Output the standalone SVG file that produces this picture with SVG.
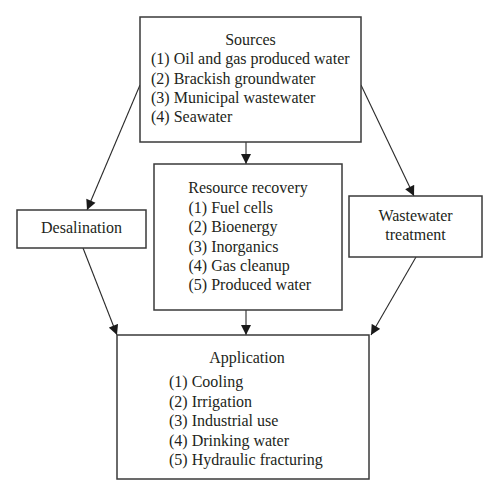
<svg xmlns="http://www.w3.org/2000/svg" width="500" height="497" viewBox="0 0 500 497">
<defs>
<style>
.box{fill:#fff;stroke:#3a3a3a;stroke-width:1.5}
.t{font-family:"Liberation Serif","Times New Roman",serif;font-size:16px;fill:#231f20}
.c{text-anchor:middle}
.edge{stroke:#2a2a2a;stroke-width:1.1;fill:none;marker-end:url(#ah)}
</style>
<marker id="ah" viewBox="0 0 10 10" refX="10" refY="5" markerWidth="11" markerHeight="10" markerUnits="userSpaceOnUse" orient="auto">
<path d="M0,0 L10,5 L0,10 z" fill="#1a1a1a"/>
</marker>
</defs>
<rect width="500" height="497" fill="#fff"/>
<g id="connectors">
<line class="edge" x1="140" y1="85" x2="87" y2="210"/>
<line class="edge" x1="361" y1="85" x2="414" y2="196"/>
<line class="edge" x1="246" y1="142" x2="246" y2="164"/>
<line class="edge" x1="83" y1="248" x2="117" y2="335"/>
<line class="edge" x1="246" y1="310" x2="246" y2="335"/>
<line class="edge" x1="416" y1="257" x2="371" y2="335"/>
</g>
<g id="sources">
<rect class="box" x="140" y="17" width="221" height="125"/>
<text class="t c" x="250.5" y="45">Sources</text>
<text class="t" x="151" y="64">(1) Oil and gas produced water</text>
<text class="t" x="151" y="83.5">(2) Brackish groundwater</text>
<text class="t" x="151" y="103">(3) Municipal wastewater</text>
<text class="t" x="151" y="122">(4) Seawater</text>
</g>
<g id="resource">
<rect class="box" x="154" y="164" width="188" height="146"/>
<text class="t c" x="248" y="193">Resource recovery</text>
<text class="t" x="188.5" y="213">(1) Fuel cells</text>
<text class="t" x="188.5" y="232">(2) Bioenergy</text>
<text class="t" x="188.5" y="252">(3) Inorganics</text>
<text class="t" x="188.5" y="271">(4) Gas cleanup</text>
<text class="t" x="188.5" y="290">(5) Produced water</text>
</g>
<g id="desalination">
<rect class="box" x="17" y="210" width="129" height="38"/>
<text class="t c" x="81.5" y="233">Desalination</text>
</g>
<g id="wastewater">
<rect class="box" x="349" y="196" width="133" height="61"/>
<text class="t c" x="415.5" y="221">Wastewater</text>
<text class="t c" x="415.5" y="240">treatment</text>
</g>
<g id="application">
<rect class="box" x="117" y="335" width="252" height="144"/>
<text class="t c" x="247" y="363">Application</text>
<text class="t" x="169" y="387">(1) Cooling</text>
<text class="t" x="169" y="407">(2) Irrigation</text>
<text class="t" x="169" y="426">(3) Industrial use</text>
<text class="t" x="169" y="446">(4) Drinking water</text>
<text class="t" x="169" y="465">(5) Hydraulic fracturing</text>
</g>
</svg>
